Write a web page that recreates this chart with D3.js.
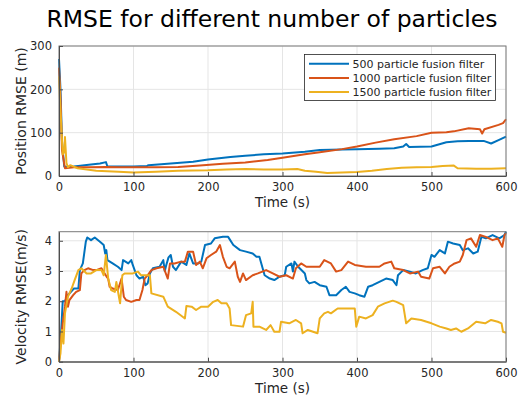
<!DOCTYPE html>
<html><head><meta charset="utf-8">
<script src="https://cdn.jsdelivr.net/npm/d3@7"></script>
<style>
body{margin:0;background:#fff;}
text{font-family:"DejaVu Sans",sans-serif;fill:#262626;}
</style></head><body>
<svg id="chart" width="519" height="395"></svg>
<script>
const title = "RMSE for different number of particles";
const seriesNames = ["500 particle fusion filter","1000 particle fusion filter","1500 particle fusion filter"];
const colors = ["#0072BD","#D95319","#EDB120"];
const xTicks = [0,100,200,300,400,500,600];
const posTicks = [0,100,200,300];
const velTicks = [0,1,2,3,4];

// Position RMSE [time, value]
const pos500 = [[0,270],[2,200],[4,80],[7,22],[12,21],[20,22],[40,26],[55,29],[63,32],[65,22],[80,22],[100,22],[118,23],[120,25],[150,29],[180,33],[200,38],[230,44],[250,47],[275,50],[300,52],[330,56],[350,60],[380,61],[400,62],[430,63],[450,64],[462,68],[466,74],[470,67],[500,68],[520,78],[535,80],[550,81],[570,81],[580,75],[590,83],[600,91]];
const pos1000 = [[0,250],[2,180],[4,60],[8,18],[20,20],[40,20],[63,21],[80,20],[100,20],[130,20],[160,21],[189,24],[220,28],[250,31],[280,37],[300,42],[330,50],[350,55],[380,62],[400,68],[425,77],[450,85],[480,92],[500,100],[520,101],[530,103],[550,110],[565,108],[568,98],[571,108],[590,118],[596,122],[600,131]];
const pos1500 = [[0,230],[2,150],[5,50],[7,55],[8,90],[10,30],[12,20],[15,25],[25,18],[50,12],[80,10],[100,8],[130,10],[160,12],[200,13],[225,15],[250,16],[275,15],[300,15],[320,16],[330,12],[345,10],[360,7],[380,8],[400,9],[420,12],[440,16],[460,19],[480,20],[500,21],[515,23],[530,24],[535,18],[560,17],[580,17],[600,18]];

// Velocity RMSE [time, value]
const vel500 = [[0,0],[3,1.05],[5,2.0],[8,2.0],[12,2.2],[20,2.42],[26,2.42],[28,3.03],[32,3.25],[36,3.97],[38,4.11],[43,4.02],[48,4.11],[55,3.97],[60,3.86],[62,3.58],[63.5,3.69],[65,3.36],[72,3.25],[79,3.14],[84,3.03],[86,3.36],[93,3.25],[97,3.36],[99,3.2],[104,2.86],[108,2.75],[113,2.81],[116,2.53],[119,2.59],[122,2.92],[126,3.09],[135,3.14],[140,3.36],[142,3.0],[144,3.2],[147,3.45],[150,3.53],[153,3.14],[157,3.03],[164,3.31],[171,3.2],[175,3.58],[180,3.25],[187,3.25],[191,3.31],[196,3.86],[204,3.91],[209,4.08],[220,4.13],[227,4.13],[234,3.86],[243,3.69],[251,3.64],[260,3.58],[265,3.47],[269,3.47],[274,3.03],[276,2.86],[283,2.75],[289,2.7],[296,2.81],[303,2.86],[305,3.14],[312,3.25],[314,2.98],[316,3.31],[321,3.14],[330,2.92],[332,2.7],[336,2.59],[343,2.64],[350,2.53],[359,2.48],[363,2.2],[372,2.2],[379,2.37],[385,2.48],[390,2.31],[397,2.26],[403,2.2],[410,2.15],[415,2.48],[421,2.53],[430,2.64],[439,2.75],[448,2.7],[453,2.53],[455,2.86],[462,3.03],[471,2.98],[479,2.92],[488,3.03],[495,3.09],[500,3.53],[504,3.47],[511,3.69],[518,3.58],[522,3.97],[529,3.91],[538,3.86],[542,3.69],[549,3.75],[556,3.58],[562,3.64],[567,4.13],[573,4.08],[582,4.19],[591,4.08],[598,4.19],[600,4.3]];
const vel1000 = [[0,0],[3,0.83],[5,1.27],[8,1.82],[10,2.31],[12,1.82],[14,2.04],[19,2.2],[23,2.31],[28,2.37],[30,2.92],[34,3.03],[39,3.09],[46,3.03],[50,3.03],[57,3.09],[64,2.81],[66,2.75],[68,2.48],[72,2.42],[79,2.37],[84,2.75],[87,2.15],[90,2.04],[97,1.98],[104,2.04],[108,2.04],[112,2.37],[115,2.75],[119,2.86],[124,3.03],[131,3.09],[140,3.14],[146,2.75],[149,3.25],[155,3.25],[164,3.31],[169,3.31],[173,3.64],[180,3.64],[184,3.2],[189,3.31],[193,3.09],[198,3.42],[204,3.53],[211,3.64],[216,3.86],[220,3.47],[225,3.14],[229,3.09],[236,3.31],[240,2.81],[243,2.64],[247,2.92],[251,2.7],[260,2.86],[267,2.92],[278,3.03],[287,2.92],[296,2.81],[305,2.86],[314,2.75],[318,3.09],[325,3.25],[332,3.14],[350,3.14],[356,3.36],[365,3.25],[372,2.98],[379,3.03],[388,3.31],[397,3.2],[412,3.14],[430,3.14],[437,3.25],[446,3.31],[450,3.09],[462,3.03],[471,2.92],[482,2.98],[486,2.81],[497,2.75],[502,3.09],[511,3.14],[518,2.92],[524,3.14],[531,3.25],[538,3.31],[542,3.53],[547,4.02],[553,4.08],[560,3.8],[565,4.19],[573,4.13],[582,4.02],[589,4.08],[595,3.8],[598,4.19],[600,4.25]];
const vel1500 = [[0,0],[2,0.28],[4,1.05],[6,0.6],[8,1.6],[12,2.15],[17,2.42],[21,2.7],[26,3.03],[30,3.09],[37,2.92],[43,2.92],[50,3.03],[57,3.03],[60,2.86],[63,3.53],[66,2.75],[70,2.37],[75,2.31],[77,2.64],[80,2.2],[82,1.93],[85,2.86],[88,2.92],[99,2.92],[106,2.98],[110,2.86],[117,2.86],[122,2.86],[124,2.26],[140,2.15],[146,1.82],[157,1.65],[169,1.43],[171,1.84],[178,1.82],[184,1.71],[191,1.82],[200,1.82],[207,1.98],[213,2.04],[218,1.93],[225,1.93],[229,1.76],[231,1.21],[247,1.16],[251,1.54],[258,1.6],[260,1.98],[261,1.16],[269,1.16],[278,1.05],[284,1.21],[289,0.99],[296,0.99],[298,1.32],[309,1.27],[318,1.38],[325,1.27],[327,0.94],[334,1.05],[347,0.94],[350,1.43],[356,1.6],[361,1.65],[365,1.6],[374,1.76],[381,1.76],[397,1.76],[399,1.16],[403,1.49],[412,1.43],[421,1.54],[428,1.82],[437,1.93],[448,2.02],[453,1.98],[462,1.87],[466,1.27],[473,1.43],[486,1.38],[500,1.27],[511,1.16],[520,1.1],[526,1.05],[533,1.1],[540,0.99],[549,1.1],[560,1.32],[572,1.27],[580,1.38],[589,1.32],[594,1.27],[596,0.99],[600,0.96]];

const svg = d3.select("#chart");
const L = 59, R = 506;

svg.append("text").attr("x", 272).attr("y", 27).attr("text-anchor","middle")
  .style("font-size","23.5px").style("fill","#000").text(title);

function panel(top, bottom, yDomain, yTicks, yLabel, data) {
  const x = d3.scaleLinear().domain([0,600]).range([L,R]);
  const y = d3.scaleLinear().domain(yDomain).range([bottom, top]);
  const g = svg.append("g");
  g.selectAll(".gx").data(xTicks).enter().append("line")
    .attr("x1", d=>x(d)).attr("x2", d=>x(d)).attr("y1", top).attr("y2", bottom)
    .attr("stroke","#e5e5e5").attr("stroke-width",1);
  g.selectAll(".gy").data(yTicks).enter().append("line")
    .attr("x1", L).attr("x2", R).attr("y1", d=>y(d)).attr("y2", d=>y(d))
    .attr("stroke","#e5e5e5").attr("stroke-width",1);
  const line = d3.line().x(d=>x(d[0])).y(d=>y(d[1]));
  data.forEach((s,i)=>{
    g.append("path").datum(s).attr("d", line).attr("fill","none")
      .attr("stroke", colors[i]).attr("stroke-width",2).attr("stroke-linejoin","round");
  });
  g.append("rect").attr("x",L).attr("y",top).attr("width",R-L).attr("height",bottom-top)
    .attr("fill","none").attr("stroke","#7a7a7a").attr("stroke-width",1);
  const xa = d3.axisBottom(x).tickValues(xTicks).tickFormat(d3.format("d")).tickSizeInner(-4).tickSizeOuter(0).tickPadding(7);
  const ya = d3.axisLeft(y).tickValues(yTicks).tickFormat(d3.format("d")).tickSizeInner(-4).tickSizeOuter(0).tickPadding(7);
  const gx = g.append("g").attr("transform",`translate(0,${bottom})`).call(xa);
  const gy = g.append("g").attr("transform",`translate(${L},0)`).call(ya);
  [gx,gy].forEach(a=>{
    a.select(".domain").attr("stroke","#4d4d4d");
    a.selectAll(".tick line").attr("stroke","#4d4d4d");
    a.selectAll("text").style("font-size","11.5px").style("font-family","DejaVu Sans").attr("fill","#262626");
  });
  g.append("text").attr("x", (L+R)/2).attr("y", bottom+31).attr("text-anchor","middle")
    .style("font-size","13.5px").text("Time (s)");
  g.append("text").attr("transform",`translate(26,${(top+bottom)/2}) rotate(-90)`)
    .attr("text-anchor","middle").style("font-size","14px").text(yLabel);
  return g;
}

panel(46, 176, [0,300], posTicks, "Position RMSE (m)", [pos500,pos1000,pos1500]);
panel(231.7, 361.7, [0,4.3], velTicks, "Velocity RMSE(m/s)", [vel500,vel1000,vel1500]);

const lg = svg.append("g");
lg.append("rect").attr("x",304.5).attr("y",54.5).attr("width",191).attr("height",46)
  .attr("fill","#fff").attr("stroke","#262626").attr("stroke-width",0.8);
seriesNames.forEach((n,i)=>{
  const yy = 63.7 + i*14.2;
  lg.append("line").attr("x1",309).attr("x2",349).attr("y1",yy).attr("y2",yy)
    .attr("stroke",colors[i]).attr("stroke-width",2);
  lg.append("text").attr("x",352.5).attr("y",yy+4).style("font-size","11px").text(n);
});
</script>
</body></html>
